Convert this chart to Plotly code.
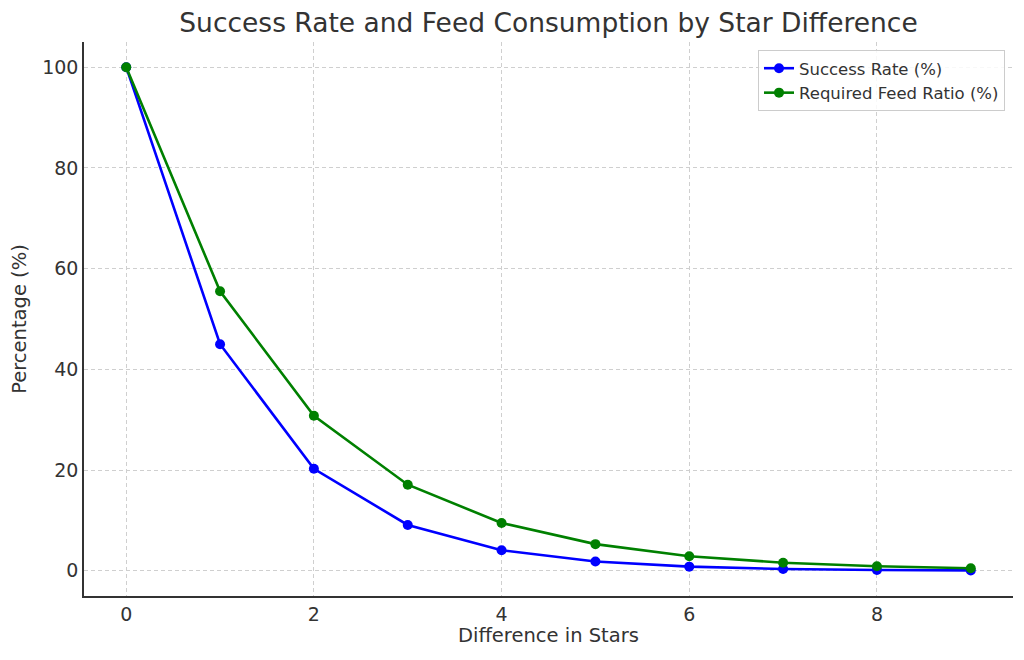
import plotly.graph_objects as go

star_diff = [0, 1, 2, 3, 4, 5, 6, 7, 8, 9]
success_rate = [100, 45.0, 20.25, 9.11, 4.10, 1.85, 0.83, 0.37, 0.17, 0.08]
feed_ratio = [100, 55.5, 30.8, 17.1, 9.5, 5.3, 2.9, 1.6, 0.9, 0.5]
x_ticks = [0, 2, 4, 6, 8]
y_ticks = [0, 20, 40, 60, 80, 100]

font_family = "DejaVu Sans"
text_color = "#333333"

fig = go.Figure()
fig.add_trace(go.Scatter(
    x=star_diff, y=success_rate, mode="lines+markers", name="Success Rate (%)",
    line=dict(color="blue", width=2.6), marker=dict(color="blue", size=10)))
fig.add_trace(go.Scatter(
    x=star_diff, y=feed_ratio, mode="lines+markers", name="Required Feed Ratio (%)",
    line=dict(color="green", width=2.6), marker=dict(color="green", size=10)))

axis_common = dict(
    showgrid=True, gridcolor="#cfcfcf", griddash="4px,3px", gridwidth=1,
    showline=True, linecolor="#333333", linewidth=1.6,
    ticks="", ticklen=0, ticklabelstandoff=0,
    tickfont=dict(family=font_family, size=19, color=text_color),
    zeroline=False, mirror=False, automargin=False,
)

fig.update_layout(
    width=1024, height=660,
    margin=dict(l=76, r=19, t=34, b=72),
    paper_bgcolor="white", plot_bgcolor="white",
    font=dict(family=font_family, color=text_color),
    title=dict(text="Success Rate and Feed Consumption by Star Difference",
               x=0.5, xref="paper", xanchor="center", y=0.977, yanchor="middle",
               font=dict(family=font_family, size=26.5, color=text_color)),
    xaxis=dict(range=[-0.45, 9.45], tickvals=x_ticks, **axis_common),
    yaxis=dict(range=[-5, 105], tickvals=y_ticks,
               title=dict(text="Percentage (%)", standoff=10,
                          font=dict(family=font_family, size=19.5, color=text_color)),
               **axis_common),
    legend=dict(x=0.9914, y=0.9856, xanchor="right", yanchor="top",
                bgcolor="rgba(255,255,255,0.85)", bordercolor="#cccccc", borderwidth=1,
                font=dict(family=font_family, size=16.5, color=text_color),
                tracegroupgap=2),
    showlegend=True,
    annotations=[dict(text="Difference in Stars", xref="paper", yref="paper",
                      x=0.5, y=-0.0722, xanchor="center", yanchor="middle",
                      showarrow=False,
                      font=dict(family=font_family, size=19.5, color=text_color))],
)

fig.write_html("out.html")
